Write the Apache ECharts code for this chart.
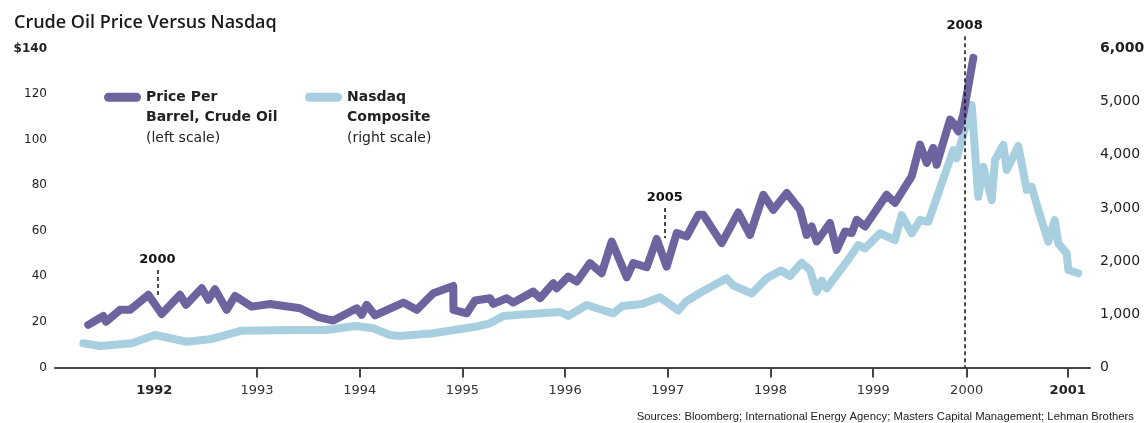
<!DOCTYPE html>
<html><head><meta charset="utf-8">
<script src="https://cdn.jsdelivr.net/npm/echarts@6/dist/echarts.min.js"></script>
<style>html,body{margin:0;padding:0;background:#fff}#c{width:1144px;height:423px}</style>
</head><body><div id="c"></div>
<script>
// ---- data (x in years on the chart's Nasdaq time scale) ----
const oilName = 'Price Per Barrel, Crude Oil';
const nasdaqName = 'Nasdaq Composite';

const oilDates = [1991.357,1991.503,1991.530,1991.666,1991.763,1991.942,1992.072,1992.250,1992.309,1992.462,
  1992.526,1992.591,1992.705,1992.786,1992.948,1993.127,1993.419,1993.597,1993.743,1993.971,
  1994.019,1994.068,1994.149,1994.425,1994.555,1994.717,1994.911,1994.913,1995.042,1995.123,
  1995.269,1995.301,1995.431,1995.496,1995.690,1995.756,1995.885,1995.918,1996.031,1996.113,
  1996.242,1996.356,1996.454,1996.600,1996.664,1996.795,1996.892,1996.989,1997.087,1997.184,
  1997.297,1997.346,1997.525,1997.686,1997.800,1997.930,1998.027,1998.158,1998.287,1998.352,
  1998.401,1998.450,1998.579,1998.644,1998.726,1998.791,1998.839,1998.920,1999.131,1999.212,
  1999.375,1999.456,1999.521,1999.585,1999.618,1999.748,1999.780,1999.829,1999.877,1999.975];
const oilPrice = [18.7,22.6,20.1,25.3,25.3,31.9,23.5,31.9,27.5,34.8,
  29.7,34.4,25.3,31.4,26.7,27.9,26.0,22.1,20.6,26.0,
  23.1,27.5,22.9,28.5,25.3,32.6,35.8,25.3,23.8,29.4,
  30.4,27.9,30.4,28.5,33.3,30.4,37.0,34.8,39.9,37.7,
  45.8,41.4,55.3,39.6,45.8,44.0,56.4,44.3,59.0,57.5,
  67.0,67.0,54.6,68.0,58.2,75.8,69.2,76.6,69.2,58.2,
  61.9,55.3,63.4,51.6,59.7,59.0,64.8,61.9,75.8,72.2,
  83.9,97.8,89.8,96.4,89.0,108.8,107.3,103.6,111.0,135.9];

const nasdaqDates = [1991.309,1991.471,1991.780,1992.007,1992.315,1992.542,1992.851,1993.353,1993.679,1993.954,
  1994.132,1994.295,1994.392,1994.717,1995.139,1995.269,1995.398,1995.658,1995.950,1996.031,
  1996.210,1996.469,1996.559,1996.749,1996.924,1997.102,1997.177,1997.328,1997.573,1997.638,
  1997.817,1997.963,1998.102,1998.190,1998.304,1998.384,1998.450,1998.499,1998.547,1998.742,
  1998.855,1998.920,1999.066,1999.212,1999.277,1999.375,1999.456,1999.537,1999.667,1999.780,
  1999.813,1999.894,1999.959,2000.023,2000.072,2000.154,2000.186,2000.267,2000.300,2000.413,
  2000.495,2000.543,2000.608,2000.705,2000.768,2000.802,2000.884,2000.900,2000.997];
const nasdaqValue = [455,404,455,611,485,530,692,705,705,781,
  737,611,592,643,771,831,969,1006,1044,969,
  1175,1019,1157,1194,1320,1072,1241,1420,1678,1542,
  1392,1678,1824,1721,1971,1834,1426,1633,1490,1990,
  2304,2242,2524,2398,2868,2524,2774,2742,3464,4091,
  3935,4499,4937,3212,3777,3150,3903,4185,3715,4166,
  3338,3400,2962,2366,2774,2336,2148,1834,1772];

// x-axis tick positions (as drawn in the original) and their labels
const xTickPos = [1992,1993,1994,1995,1996,1997,1998,1999,1999.91,2000.894];
const xTickLabels = ['1992','1993','1994','1995','1996','1997','1998','1999','2000','2001'];
const boldYears = ['1992','2001'];
// y-axis tick labels
const leftTicks = [0,20,40,60,80,100,120,140];
const rightTicks = [0,1000,2000,3000,4000,5000,6000];

// oil-year annotations
const annoLabels = ['2000','2005','2008'];
const annoX = [1992.03,1996.97,1999.89];
const annoTop = [42.8,70.0,145.4];
const annoBottom = [30.5,56.8,0];

const oilPairs = oilDates.map((d,i)=>[d,oilPrice[i]]);
const nasdaqPairs = nasdaqDates.map((d,i)=>[d,nasdaqValue[i]]);

const PURPLE = '#6d639f';
const BLUE = '#a7cfe0';
const FONT = 'DejaVu Sans';
const capsule = 'path://M4.5,0H32.5A4.5,4.5,0,0,1,32.5,9H4.5A4.5,4.5,0,0,1,4.5,0Z';

const legendText = {
  [oilName]: '{b|Price Per}\n{b|Barrel, Crude Oil}\n{n|(left scale)}',
  [nasdaqName]: '{b|Nasdaq}\n{b|Composite}\n{n|(right scale)}'
};
function legendCfg(name, left){
  return {
    data:[{name:name, icon:capsule}],
    left:left, top:41, itemWidth:37, itemHeight:9, selectedMode:false,
    itemStyle:{borderWidth:0},
    formatter: n => legendText[n],
    textStyle:{fontFamily:FONT, fontSize:14, color:'#222', lineHeight:20.5, padding:[41,0,0,0],
      rich:{ b:{fontFamily:FONT,fontSize:14,fontWeight:'bold',color:'#222',lineHeight:20.5},
             n:{fontFamily:FONT,fontSize:14,color:'#222',lineHeight:20.5} } }
  };
}

// plot area: 140 / 6,000 sit 12.5px below the top edge, leaving room for the 2008 marker
const LEFT_MAX = 140 + 12.5/(319/140);
const RIGHT_MAX = 6000 + 12.5/(319/6000);

const chart = echarts.init(document.getElementById('c'), null, {renderer:'canvas'});
chart.setOption({
  animation:false,
  backgroundColor:'#fff',
  title:[
    {text:'Crude Oil Price Versus Nasdaq', left:14, top:14, padding:0,
     textStyle:{fontFamily:'Open Sans', fontSize:18, fontWeight:600, color:'#1a1a1a'}},
    {text:'Sources: Bloomberg; International Energy Agency; Masters Capital Management; Lehman Brothers',
     right:10, top:411, padding:0, textStyle:{fontFamily:'Liberation Sans', fontSize:11.3, fontWeight:'normal', color:'#222'}}
  ],
  legend:[legendCfg(oilName,99), legendCfg(nasdaqName,300)],
  grid:{left:55, right:54, top:36, bottom:55.5, containLabel:false, outerBoundsMode:'none'},
  xAxis:{
    type:'value', min:1991.033, max:2001.111,
    axisLine:{lineStyle:{color:'#444', width:2}},
    axisTick:{show:true, length:10, lineStyle:{color:'#444', width:2}, customValues:xTickPos},
    axisLabel:{customValues:xTickPos, margin:17, fontFamily:FONT, fontSize:13, color:'#333',
      formatter: v => { const i = xTickPos.findIndex(p=>Math.abs(p-v)<1e-6); const t = i>=0?xTickLabels[i]:''; return boldYears.includes(t)?'{b|'+t+'}':t; },
      rich:{b:{fontFamily:FONT,fontSize:13,fontWeight:'bold',color:'#222'}}},
    splitLine:{show:false}
  },
  yAxis:[
    {type:'value', min:0, max:LEFT_MAX, position:'left',
     axisLine:{show:false}, axisTick:{show:false}, splitLine:{show:false},
     axisLabel:{customValues:leftTicks, margin:8, fontFamily:FONT, fontSize:12, color:'#222',
       formatter: v => v===140 ? '{b|$140}' : String(v),
       rich:{b:{fontFamily:FONT,fontSize:12,fontWeight:'bold',color:'#222'}}}},
    {type:'value', min:0, max:RIGHT_MAX, position:'right',
     axisLine:{show:false}, axisTick:{show:false}, splitLine:{show:false},
     axisLabel:{customValues:rightTicks, margin:10, fontFamily:FONT, fontSize:14, color:'#222',
       formatter: v => { const s = v.toLocaleString('en-US'); return v===6000 ? '{b|'+s+'}' : s; },
       rich:{b:{fontFamily:FONT,fontSize:14,fontWeight:'bold',color:'#222'}}}}
  ],
  series:[
    {type:'line', name:nasdaqName, yAxisIndex:1, data:nasdaqPairs, color:BLUE,
     symbol:'none', showSymbol:false, z:2,
     lineStyle:{color:BLUE, width:8, cap:'round', join:'round'}},
    {type:'line', name:oilName, yAxisIndex:0, data:oilPairs, color:PURPLE,
     symbol:'none', showSymbol:false, z:3, clip:false,
     lineStyle:{color:PURPLE, width:8, cap:'round', join:'round'},
     markLine:{silent:true, symbol:['none','none'], animation:false,
       lineStyle:{color:'#111', width:1.5, type:[4,3]},
       label:{show:true, position:'start', distance:4, formatter:p=>p.name,
         fontFamily:FONT, fontSize:13, fontWeight:'bold', color:'#111'},
       data: annoLabels.map((t,i)=>[{name:t, coord:[annoX[i], annoTop[i]]},{coord:[annoX[i], annoBottom[i]]}])
     }}
  ]
});
</script></body></html>
